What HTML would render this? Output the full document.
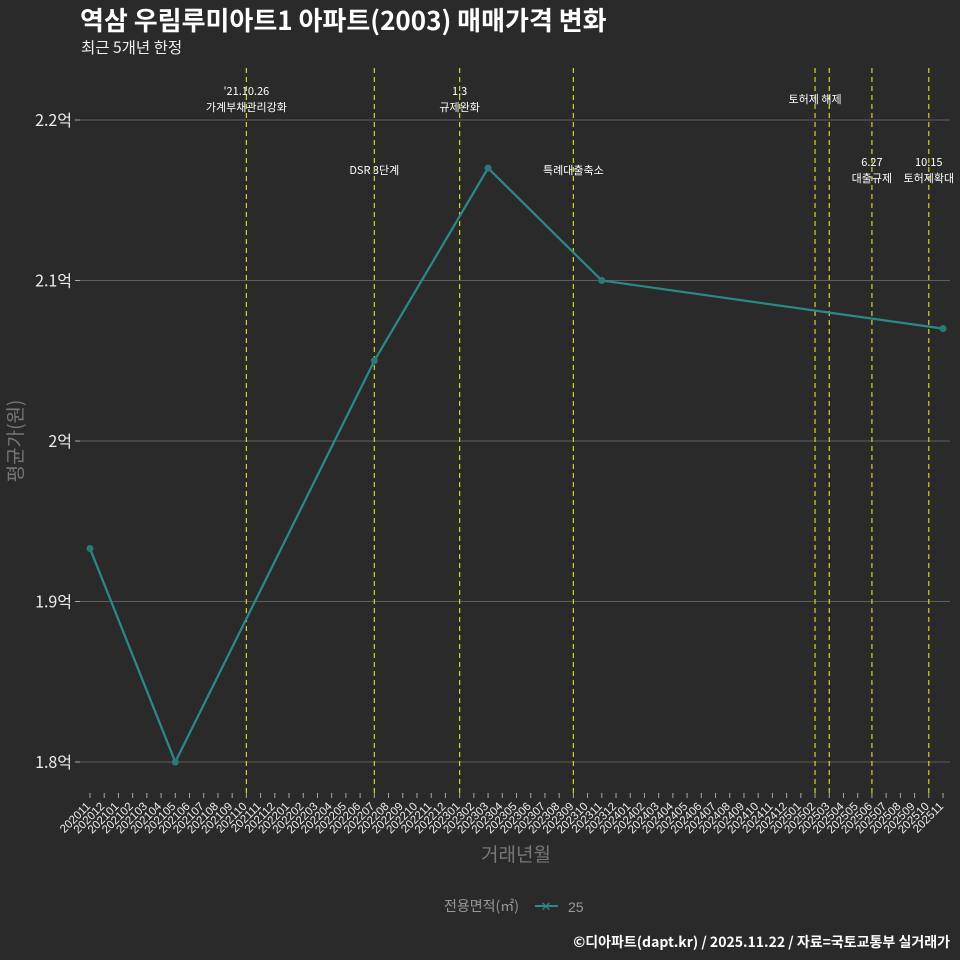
<!DOCTYPE html>
<html><head><meta charset="utf-8"><style>
body{margin:0;background:#2b2a2a;}
svg{display:block;font-family:"Liberation Sans","Noto Sans CJK KR",sans-serif;}
.k{font-family:"Noto Sans CJK KR","Liberation Sans",sans-serif;}
</style></head><body>
<svg id="c" width="960" height="960" viewBox="0 0 960 960">
<rect width="960" height="960" fill="#2b2a2a"/>
<text class="k" x="80" y="30" font-size="26" font-weight="bold" fill="#fff">역삼 우림루미아트1 아파트(2003) 매매가격 변화</text>
<text class="k" x="81" y="53" font-size="15.5" fill="#eee">최근 5개년 한정</text>
<text class="k" transform="translate(22,441) rotate(-90)" text-anchor="middle" font-size="19" fill="#777">평균가(원)</text>
<text class="k" x="516" y="861" text-anchor="middle" font-size="19" fill="#777">거래년월</text>
<g>
<text class="k" x="444" y="911" font-size="14" fill="#999">전용면적(㎡)</text>
<line x1="535" y1="906" x2="558" y2="906" stroke="#2a8a8a" stroke-width="2"/>
<text x="546" y="911" text-anchor="middle" font-size="13" fill="#2a8a8a">✕</text>
<text x="568" y="912" font-size="14" fill="#999">25</text>
</g>
<text class="k" x="950" y="947" text-anchor="end" font-size="14" font-weight="bold" fill="#fff">©디아파트(dapt.kr) / 2025.11.22 / 자료=국토교통부 실거래가</text>
<g id="grid"></g><g id="vl"></g><g id="ann"></g><g id="ser"></g><g id="xax"></g><g id="yax"></g>
</svg>
<script>
const months=[];
for(let y=2020,m=11;y<2025||(y===2025&&m<=11);){months.push(''+y+(m<10?'0':'')+m);m++;if(m>12){m=1;y++;}}
const seriesMonths=['202011','202105','202207','202303','202311','202511'];
const seriesValues=[1.933,1.8,2.05,2.17,2.10,2.07];
const yTicks=[1.8,1.9,2.0,2.1,2.2];
const yTickLabels=['1.8억','1.9억','2억','2.1억','2.2억'];
const eventMonths=['202110','202207','202301','202309','202502','202503','202506','202510'];
const eventLabels=[["'21.10.26","가계부채관리강화"],["DSR 3단계"],["1.3","규제완화"],["특례대출축소"],["토허제 해제"],[],["6.27","대출규제"],["10.15","토허제확대"]];
const eventLabelY=[[95,111],[174],[95,111],[174],[103],[],[166,182],[166,182]];
const NS='http://www.w3.org/2000/svg';
const X0=90,X1=943,Y0=762,Y1=120;
function xs(mo){return X0+(X1-X0)*months.indexOf(mo)/(months.length-1);}
function ys(v){return Y0+(v-1.8)/(2.2-1.8)*(Y1-Y0);}
function mk(t,a,p){const e=document.createElementNS(NS,t);for(const k in a)e.setAttribute(k,a[k]);document.getElementById(p).appendChild(e);return e;}
yTicks.forEach((v,i)=>{
 const g=mk('line',{x1:75,x2:950,y1:ys(v),y2:ys(v),stroke:'#5e5e5e','stroke-width':1},'grid');
 
 
 const tk=mk('line',{x1:75,x2:80,y1:ys(v),y2:ys(v),stroke:'#aaa'},'yax');
 
 
 const t=mk('text',{x:72,y:ys(v)+6,'text-anchor':'end','font-size':16,fill:'#eee',class:'k'},'yax');
 t.textContent=yTickLabels[i];
 
 
});
eventMonths.forEach((mo,i)=>{
 const x=xs(mo);
 const l=mk('line',{x1:x,x2:x,y1:68,y2:795,stroke:'#d4d42a','stroke-width':1.2,'stroke-dasharray':'5,4'},'vl');
 
 
 eventLabels[i].forEach((s,j)=>{
  const t=mk('text',{x:x,y:eventLabelY[i][j],'text-anchor':'middle','font-size':11,fill:'#fff',class:'k'},'ann');
  t.textContent=s;
  
  
 });
});
const pts=seriesMonths.map((m,i)=>xs(m)+','+ys(seriesValues[i])).join(' ');
const pl=mk('polyline',{points:pts,fill:'none',stroke:'#2a8a8a','stroke-width':2.2},'ser');


seriesMonths.forEach((m,i)=>{
 const c=mk('circle',{cx:xs(m),cy:ys(seriesValues[i]),r:3.5,fill:'#2a7a78'},'ser');
 
 
});
months.forEach(mo=>{
 const x=xs(mo);
 const tk=mk('line',{x1:x,x2:x,y1:793,y2:798,stroke:'#aaa'},'xax');
 
 
 const tx=x+1,ty=807;
 const t=mk('text',{x:tx,y:ty,'text-anchor':'end','font-size':11.5,fill:'#eee',transform:'rotate(-45 '+tx+' '+ty+')'},'xax');
 t.textContent=mo;
 
 
});
</script>
</body></html>
